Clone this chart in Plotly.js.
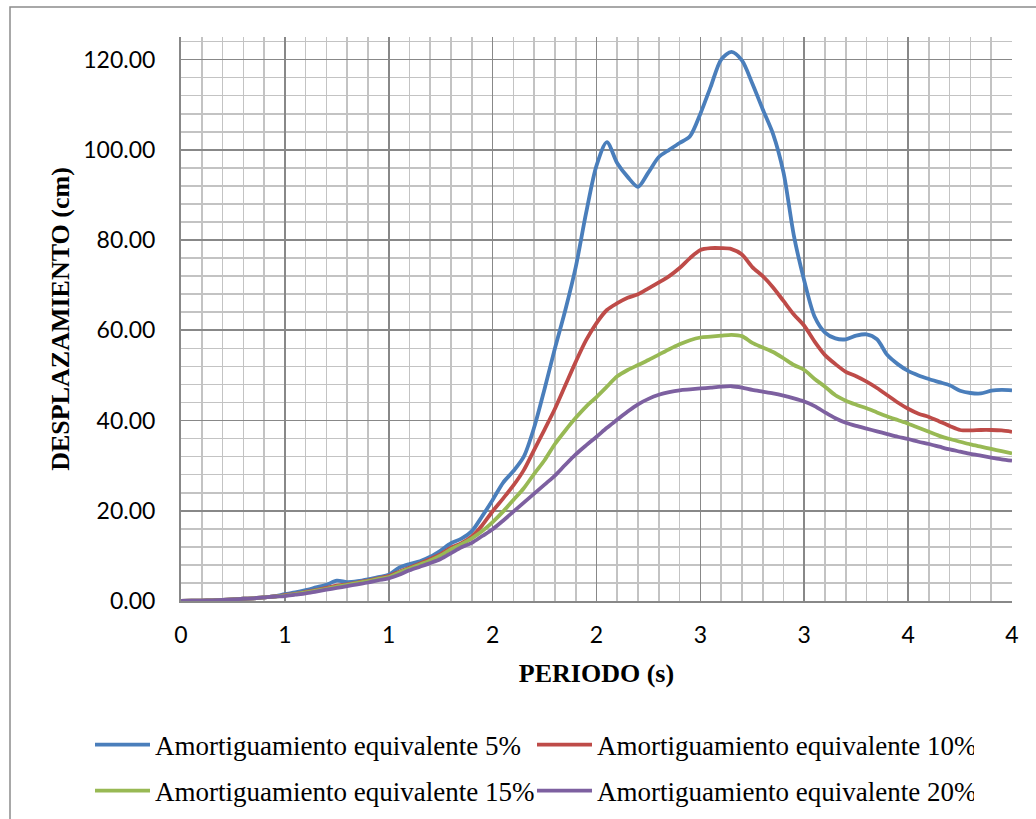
<!DOCTYPE html>
<html>
<head>
<meta charset="utf-8">
<script src="https://cdn.plot.ly/plotly-3.0.1.min.js"></script>
<style>
  html, body { margin: 0; padding: 0; background: #ffffff; }
  #chart { width: 1036px; height: 819px; }
</style>
</head>
<body>
<div id="chart"></div>
<script>
// Periodo (s)
const periodo = [
  0.00, 0.05, 0.10, 0.15, 0.20, 0.25, 0.30, 0.35, 0.40, 0.45,
  0.50, 0.55, 0.60, 0.65, 0.70, 0.75, 0.80, 0.85, 0.90, 0.95,
  1.00, 1.05, 1.10, 1.15, 1.20, 1.25, 1.30, 1.35, 1.40, 1.45,
  1.50, 1.55, 1.60, 1.65, 1.70, 1.75, 1.80, 1.85, 1.90, 1.95,
  2.00, 2.05, 2.10, 2.15, 2.20, 2.25, 2.30, 2.35, 2.40, 2.45,
  2.50, 2.55, 2.60, 2.65, 2.70, 2.75, 2.80, 2.85, 2.90, 2.95,
  3.00, 3.05, 3.10, 3.15, 3.20, 3.25, 3.30, 3.35, 3.40, 3.45,
  3.50, 3.55, 3.60, 3.65, 3.70, 3.75, 3.80, 3.85, 3.90, 3.95,
  4.00
];

// Desplazamiento (cm) for each equivalent damping ratio
const amort5 = [
  0.00, 0.05, 0.10, 0.15, 0.25, 0.35, 0.50, 0.60, 0.80, 1.00,
  1.50, 1.90, 2.40, 3.00, 3.60, 4.50, 4.20, 4.40, 4.80, 5.30,
  5.80, 7.40, 8.20, 8.80, 9.80, 11.20, 12.80, 13.80, 15.50, 18.80,
  22.40, 26.20, 28.80, 32.00, 38.50, 47.00, 56.00, 64.50, 74.00, 86.00,
  96.50, 101.70, 97.00, 94.00, 91.80, 95.00, 98.40, 100.00, 101.50, 103.00,
  108.00, 114.00, 120.00, 121.70, 119.80, 114.70, 109.00, 103.50, 95.00, 81.00,
  71.00, 63.00, 59.50, 58.20, 58.00, 58.80, 59.10, 58.00, 54.50, 52.50,
  51.00, 50.00, 49.20, 48.50, 47.80, 46.60, 46.10, 46.00, 46.60, 46.80,
  46.70
];
const amort10 = [
  0.00, 0.05, 0.10, 0.15, 0.25, 0.35, 0.50, 0.60, 0.80, 1.00,
  1.30, 1.60, 2.00, 2.40, 2.90, 3.40, 3.70, 4.10, 4.50, 5.00,
  5.50, 6.50, 7.40, 8.30, 9.30, 10.40, 11.80, 12.80, 14.30, 16.80,
  19.90, 22.70, 25.60, 29.00, 33.50, 38.00, 42.60, 47.80, 53.00, 57.80,
  61.60, 64.50, 66.00, 67.20, 68.00, 69.30, 70.60, 72.00, 73.80, 76.00,
  77.80, 78.20, 78.20, 78.00, 76.80, 74.00, 72.00, 69.50, 66.50, 63.50,
  61.00, 57.50, 54.50, 52.50, 50.80, 49.80, 48.60, 47.20, 45.60, 44.00,
  42.60, 41.50, 40.80, 39.80, 38.80, 37.90, 37.80, 37.90, 37.90, 37.80,
  37.50
];
const amort15 = [
  0.00, 0.05, 0.10, 0.15, 0.25, 0.35, 0.50, 0.60, 0.80, 1.00,
  1.20, 1.50, 1.90, 2.30, 2.70, 3.20, 3.60, 4.00, 4.40, 4.90,
  5.30, 6.30, 7.20, 8.10, 9.00, 10.10, 11.50, 12.60, 13.90, 15.50,
  17.50, 19.80, 22.40, 25.00, 28.20, 31.20, 34.80, 37.80, 40.60, 43.10,
  45.20, 47.50, 49.80, 51.20, 52.30, 53.40, 54.60, 55.80, 56.90, 57.80,
  58.40, 58.60, 58.80, 59.00, 58.70, 57.20, 56.20, 55.20, 53.80, 52.30,
  51.20, 49.20, 47.50, 45.60, 44.40, 43.50, 42.70, 41.80, 40.90, 40.10,
  39.30, 38.40, 37.50, 36.60, 35.90, 35.30, 34.70, 34.20, 33.70, 33.20,
  32.70
];
const amort20 = [
  0.00, 0.05, 0.10, 0.15, 0.25, 0.35, 0.50, 0.60, 0.80, 1.00,
  1.10, 1.40, 1.70, 2.10, 2.50, 2.90, 3.30, 3.70, 4.10, 4.60,
  5.00, 5.80, 6.80, 7.60, 8.40, 9.30, 10.60, 11.90, 12.90, 14.40,
  15.90, 17.80, 19.80, 21.80, 23.80, 25.80, 27.80, 30.20, 32.50, 34.50,
  36.40, 38.40, 40.20, 42.00, 43.60, 44.80, 45.70, 46.30, 46.70, 46.90,
  47.10, 47.30, 47.50, 47.60, 47.30, 46.80, 46.40, 46.00, 45.50, 44.90,
  44.20, 43.20, 41.80, 40.50, 39.50, 38.80, 38.20, 37.60, 37.00, 36.40,
  35.90, 35.30, 34.80, 34.20, 33.60, 33.10, 32.60, 32.20, 31.80, 31.40,
  31.10
];

const seriesNames = [
  'Amortiguamiento equivalente 5%',
  'Amortiguamiento equivalente 10%',
  'Amortiguamiento equivalente 15%',
  'Amortiguamiento equivalente 20%'
];
const seriesColors = ['#4A7EBB', '#BE4B48', '#98B954', '#7D60A0'];
// first two entries sit on the upper legend row, the other two below
const seriesLegend = ['legend', 'legend', 'legend2', 'legend2'];

// x tick positions and their (rounded) labels
const xTickVals = [0, 0.5, 1, 1.5, 2, 2.5, 3, 3.5, 4];
const xTickText = ['0', '1', '1', '2', '2', '3', '3', '4', '4'];

const seriesValues = [amort5, amort10, amort15, amort20];
const traces = seriesValues.map((vals, i) => ({
  type: 'scatter',
  mode: 'lines',
  x: periodo,
  y: vals,
  name: seriesNames[i],
  legend: seriesLegend[i],
  line: { color: seriesColors[i], width: 3.8, shape: 'spline', smoothing: 0.8 },
  hoverinfo: 'x+y+name'
}));

const majorGrid = '#888888';
const minorGrid = '#C3C3C3';
const tickFont = { family: 'Lato', size: 23, color: '#000000' };
const titleFont = { family: 'Liberation Serif', size: 26, color: '#000000', weight: 'bold' };
const legendFont = { family: 'Liberation Serif', size: 27, color: '#000000' };

// plot area in pixels: x 181..1012, y 37..601
const plotW = 831, plotH = 564;

function legendRow(centerPx) {
  return {
    orientation: 'h',
    x: (90 - 181) / plotW,
    xanchor: 'left',
    y: (601 - centerPx) / plotH,
    yanchor: 'middle',
    entrywidth: 372,
    entrywidthmode: 'pixels',
    itemwidth: 55,
    font: legendFont,
    bgcolor: 'rgba(0,0,0,0)',
    borderwidth: 0
  };
}

const layout = {
  width: 1036,
  height: 819,
  paper_bgcolor: '#ffffff',
  plot_bgcolor: '#ffffff',
  margin: { l: 181, r: 24, t: 37, b: 218, pad: 0, autoexpand: false },
  showlegend: true,
  xaxis: {
    range: [0, 4],
    tickmode: 'array',
    tickvals: xTickVals,
    ticktext: xTickText,
    ticks: '',
    ticklabelstandoff: 12,
    tickfont: tickFont,
    showgrid: true,
    gridcolor: majorGrid,
    gridwidth: 1.6,
    minor: { dtick: 0.1, tick0: 0, showgrid: true, gridcolor: minorGrid, gridwidth: 1.6 },
    showline: true,
    linecolor: majorGrid,
    linewidth: 2,
    zeroline: false,
    fixedrange: true,
    automargin: false,
    title: { text: 'PERIODO (s)', font: titleFont, standoff: 17 }
  },
  yaxis: {
    range: [0, 125],
    dtick: 20,
    tick0: 0,
    tickformat: '.2f',
    ticks: '',
    ticklabelstandoff: 19,
    tickfont: tickFont,
    showgrid: true,
    gridcolor: majorGrid,
    gridwidth: 1.6,
    minor: { dtick: 4, tick0: 0, showgrid: true, gridcolor: minorGrid, gridwidth: 1.6 },
    showline: true,
    linecolor: majorGrid,
    linewidth: 2,
    zeroline: false,
    fixedrange: true,
    automargin: false,
    title: { text: 'DESPLAZAMIENTO (cm)', font: titleFont, standoff: 6 }
  },
  legend: legendRow(745),
  legend2: legendRow(791),
  shapes: [
    {
      type: 'rect', xref: 'paper', yref: 'paper',
      x0: (10 - 181) / plotW, x1: 1.2,
      y0: -0.6, y1: 1 + (37 - 7) / plotH,
      line: { color: '#8C8C8C', width: 1.5 },
      fillcolor: 'rgba(0,0,0,0)',
      layer: 'below'
    }
  ]
};

Plotly.newPlot('chart', traces, layout, { displayModeBar: false, staticPlot: true });
</script>
</body>
</html>
